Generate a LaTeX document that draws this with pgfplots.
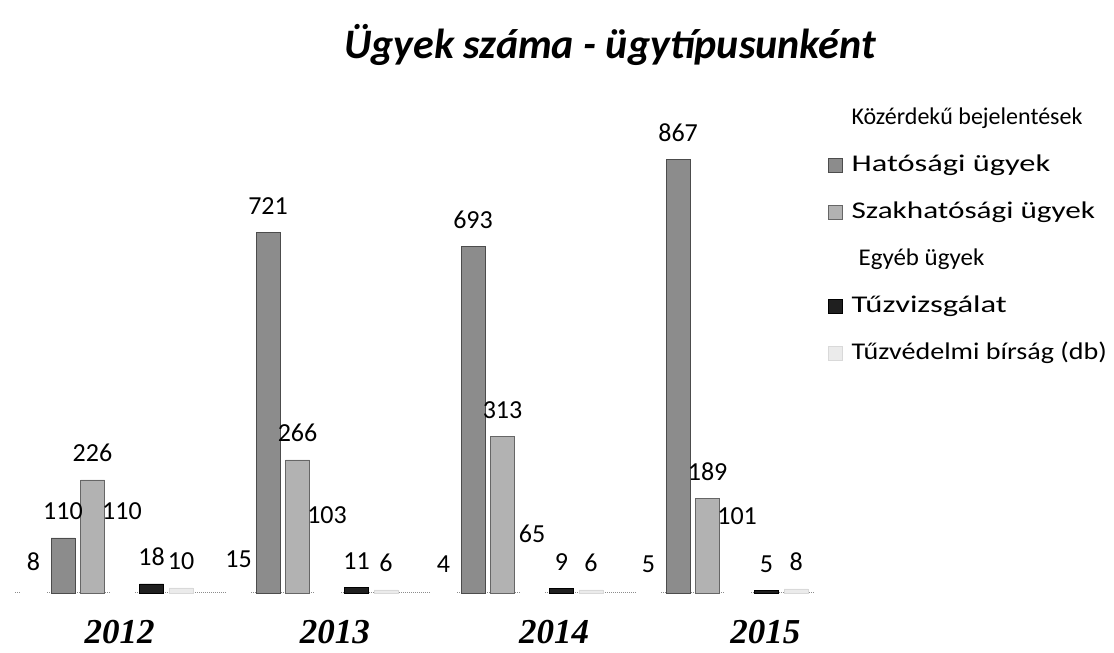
\documentclass[border=0pt]{standalone}
\usepackage{fontspec}
\setmainfont{Carlito}
\newfontfamily\yearfont{Liberation Serif}
\usepackage{graphicx}
\usepackage{pgfplots}
\pgfplotsset{compat=1.18}
% the scanned legend is set wider than plain Calibri
\newcommand{\wide}[2]{\scalebox{#1}[1]{#2}}

\begin{document}
\begin{tikzpicture}
\begin{axis}[
  at={(15pt,60pt)}, anchor=south west,
  scale only axis, width=800pt, height=475pt,
  ybar=5.5pt, bar width=24pt,
  xmin=-0.45, xmax=3.452, ymin=0, ymax=950,
  xtick={0.06,1.11,2.18,3.21},
  xticklabels={2012,2013,2014,2015},
  major tick length=0pt,
  xticklabel style={font=\fontsize{35}{35}\yearfont\bfseries\itshape,
    anchor=center, yshift=-39pt},
  axis x line*=bottom, axis y line=none,
  axis line style={draw=black!45, densely dotted, line width=1pt},
  /pgf/number format/assume math mode=true,
  nodes near coords,
  every node near coord/.append style={font=\fontsize{26}{26}\selectfont,
    inner sep=0pt, yshift=18pt, text=black},
  legend style={at={(1.016,1.025)}, anchor=north west, draw=none, fill=none,
    inner sep=0pt, font=\fontsize{24}{24}\selectfont, row sep=23pt,
    nodes={text height=18pt, text depth=6pt, inner sep=0pt},
    /tikz/every odd column/.append style={column sep=9pt}},
  legend cell align=left,
  legend image code/.code={\draw[#1] (0pt,-7pt) rectangle (14pt,7pt);},
  clip=false,
]
\addplot[fill=white, draw=white] coordinates {(0,8) (1,15) (2,4) (3,5)};
\addlegendentry{Közérdekű bejelentések}
\addplot[fill=black!45, draw=black!70, line width=0.6pt]
  coordinates {(0,110) (1,721) (2,693) (3,867)};
\addlegendentry{\wide{1.35}{Hatósági ügyek}}
\addplot[fill=black!30, draw=black!60, line width=0.6pt]
  coordinates {(0,226) (1,266) (2,313) (3,189)};
\addlegendentry{\wide{1.3}{Szakhatósági ügyek}}
\addplot[fill=white, draw=white] coordinates {(0,110) (1,103) (2,65) (3,101)};
\addlegendentry{\hspace{7pt}\wide{1.04}{Egyéb ügyek}}
\addplot[fill=black!88, draw=black, line width=0.6pt]
  coordinates {(0,18) (1,11) (2,9) (3,5)};
\addlegendentry{\wide{1.36}{Tűzvizsgálat}}
\addplot[fill=black!8, draw=black!15, line width=0.4pt]
  coordinates {(0,10) (1,6) (2,6) (3,8)};
\addlegendentry{\wide{1.17}{Tűzvédelmi bírság (db)}}
\end{axis}
\node[font=\fontsize{42}{42}\selectfont\bfseries\itshape]
  at (610pt,608pt) {Ügyek száma - ügytípusunként};
\pgfresetboundingbox
\path (0,0) rectangle (1114pt,653pt);
\end{tikzpicture}
\end{document}
